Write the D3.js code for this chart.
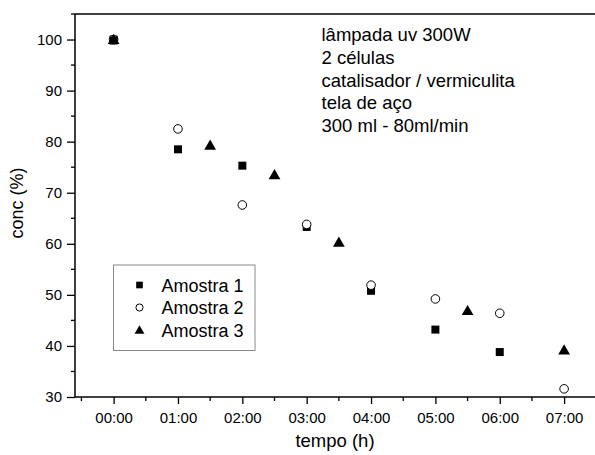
<!DOCTYPE html>
<html><head><meta charset="utf-8">
<script src="https://cdn.jsdelivr.net/npm/d3@7"></script>
<style>body{margin:0;background:#fff}svg{display:block}text{font-family:Arial,"Liberation Sans",sans-serif;fill:#000}</style>
</head><body>
<script>
const tickHours = [0,1,2,3,4,5,6,7];
const tickLabels = ["00:00","01:00","02:00","03:00","04:00","05:00","06:00","07:00"];
const yTicks = [30,40,50,60,70,80,90,100];
const a1x = [0,1,2,3,4,5,6];
const a1y = [100,78.5,75.3,63.3,50.8,43.2,38.8];
const a2x = [0,1,2,3,4,5,6,7];
const a2y = [100,82.5,67.6,63.8,51.9,49.2,46.4,31.6];
const a3x = [0,1.5,2.5,3.5,5.5,7];
const a3y = [100,79.3,73.5,60.3,46.9,39.2];
const seriesNames = ["Amostra 1","Amostra 2","Amostra 3"];
const noteLines = ["lâmpada uv 300W","2 células","catalisador / vermiculita","tela de aço","300 ml - 80ml/min"];

const W=595,H=455;
const svg=d3.select("body").append("svg").attr("width",W).attr("height",H);
const L=75,T=14,B=397,R=595;
const x=d3.scaleLinear().domain([-0.6,7.48]).range([L,R]);
const y=d3.scaleLinear().domain([30,105]).range([B,T]);

// frame
svg.append("line").attr("x1",L).attr("x2",R).attr("y1",T).attr("y2",T).attr("stroke","#000").attr("stroke-width",1.5);

// y axis
const yAx=svg.append("g").attr("transform",`translate(${L},0)`)
  .call(d3.axisLeft(y).tickValues(yTicks).tickSize(8).tickPadding(5).tickFormat(d3.format("d")));
yAx.select(".domain").attr("stroke-width",1.5).attr("d",`M0,${T}V${B}`);
yAx.selectAll(".tick line").attr("stroke-width",1.3);
yAx.selectAll("text").style("font-size","15px").attr("font-family",null);
const yMinor=d3.range(35,106,10);
svg.append("g").selectAll("line").data(yMinor).join("line")
  .attr("x1",L-4).attr("x2",L).attr("y1",d=>y(d)).attr("y2",d=>y(d)).attr("stroke","#000").attr("stroke-width",1.3);

// x axis
const xAx=svg.append("g").attr("transform",`translate(0,${B})`)
  .call(d3.axisBottom(x).tickValues(tickHours).tickSize(7).tickPadding(8).tickFormat((d,i)=>tickLabels[i]));
xAx.select(".domain").attr("stroke-width",1.5).attr("d",`M${L},0H${R}`);
xAx.selectAll(".tick line").attr("stroke-width",1.3);
xAx.selectAll("text").style("font-size","15px").attr("font-family",null);
const xMinor=d3.range(-0.5,7.6,1);
svg.append("g").selectAll("line").data(xMinor).join("line")
  .attr("x1",d=>x(d)).attr("x2",d=>x(d)).attr("y1",B).attr("y2",B+4).attr("stroke","#000").attr("stroke-width",1.3);

// axis titles
svg.append("text").attr("x",335).attr("y",447).attr("text-anchor","middle").style("font-size","18.5px").text("tempo (h)");
svg.append("text").attr("transform","translate(23,203) rotate(-90)").attr("text-anchor","middle").style("font-size","18px").text("conc (%)");

// points
const sq=d3.symbol().type(d3.symbolSquare).size(64);
const ci=d3.symbol().type(d3.symbolCircle).size(58);
const tr=d3.symbol().type(d3.symbolTriangle).size(60);
const g=svg.append("g");
g.selectAll(".s1").data(a1x.map((v,i)=>[v,a1y[i]])).join("path").attr("d",sq)
  .attr("transform",d=>`translate(${x(d[0])},${y(d[1])})`).attr("fill","#000");
g.selectAll(".s2").data(a2x.map((v,i)=>[v,a2y[i]])).join("path").attr("d",ci)
  .attr("transform",d=>`translate(${x(d[0])},${y(d[1])})`).attr("fill","#fff").attr("stroke","#000").attr("stroke-width",1);
g.selectAll(".s3").data(a3x.map((v,i)=>[v,a3y[i]])).join("path").attr("d",tr)
  .attr("transform",d=>`translate(${x(d[0])},${y(d[1])+1})`).attr("fill","#000");
// at 00:00 the reference shows a solid black overlap
g.append("path").attr("d",sq).attr("transform",`translate(${x(a1x[0])},${y(a1y[0])+1})`).attr("fill","#000");

// legend
const lg=svg.append("g");
lg.append("rect").attr("x",113.5).attr("y",265).attr("width",141.5).attr("height",85.5).attr("fill","#fff").attr("stroke","#888").attr("stroke-width",1);
const lsyms=[d3.symbol().type(d3.symbolSquare).size(44),d3.symbol().type(d3.symbolCircle).size(40),d3.symbol().type(d3.symbolTriangle).size(42)];
seriesNames.forEach((n,i)=>{
  const cy=285+i*22.5;
  const p=lg.append("path").attr("d",lsyms[i]).attr("transform",`translate(139.5,${cy+(i==2?1:0)})`);
  if(i==1) p.attr("fill","#fff").attr("stroke","#000").attr("stroke-width",1); else p.attr("fill","#000");
  lg.append("text").attr("x",161.5).attr("y",cy+6.5).style("font-size","18px").text(n);
});

// note
const nt=svg.append("text").style("font-size","18.5px");
noteLines.forEach((s,i)=>nt.append("tspan").attr("x",321.5).attr("y",41+i*22.8).text(s));
</script>
</body></html>
